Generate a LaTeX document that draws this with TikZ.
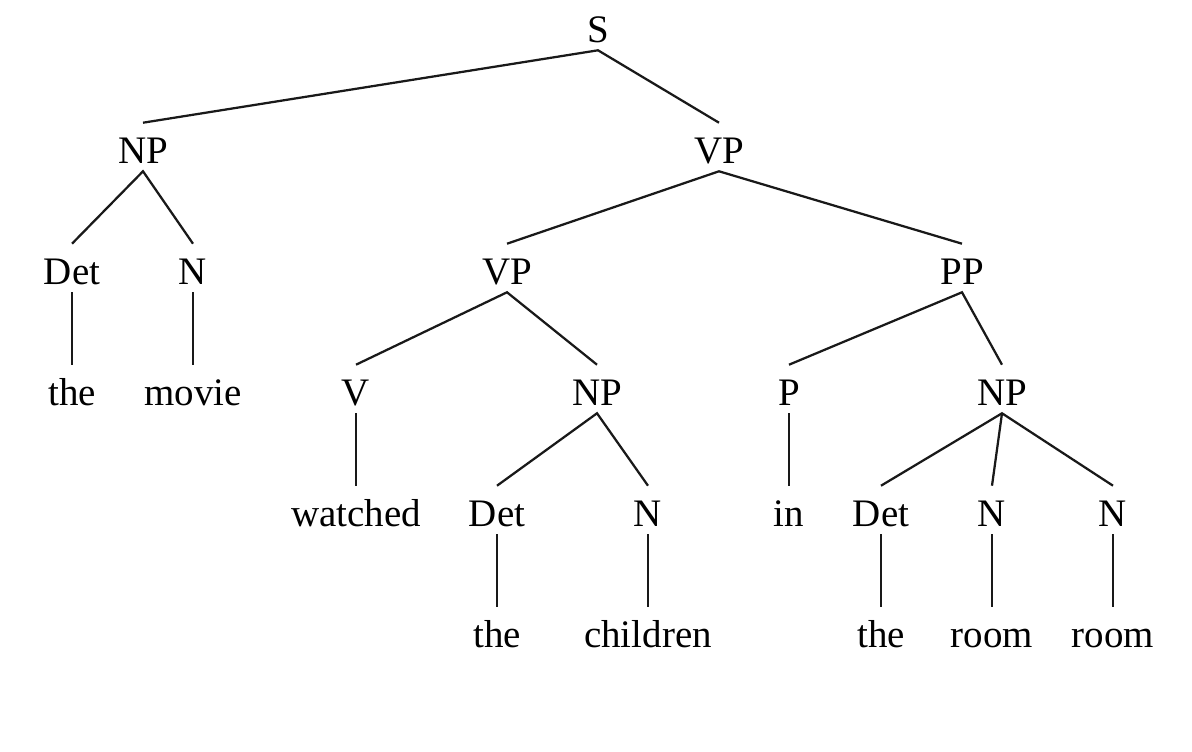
\documentclass[tikz,border=0pt]{standalone}
\usepackage{fontspec}
\setmainfont{Liberation Serif}
\usepackage{tikz}

\begin{document}
\begin{tikzpicture}[x=0.025cm, y=-0.025cm,
    every node/.style={font=\fontsize{27.7pt}{33pt}\selectfont, anchor=base,
        text height=0.8cm, text depth=0pt, inner xsep=0pt, inner ysep=0.2cm},
    branch/.style={line width=1.6pt, black!90}]
    \useasboundingbox (0,0) rectangle (1192,751);

    % Root and first level
    \node (s) at (598,42) {S};
    \node (np) at (143,163) {NP};
    \node (vp) at (719,163) {VP};

    % Subject NP
    \node (det) at (72,284) {Det};
    \node (n) at (193,284) {N};
    \node (the) at (72,405) {the};
    \node (movie) at (193,405) {movie};

    % Upper VP: VP + PP
    \node (vpb) at (507,284) {VP};
    \node (pp) at (962,284) {PP};

    % Lower VP
    \node (v) at (356,405) {V};
    \node (npb) at (597,405) {NP};
    \node (watched) at (356,526) {watched};
    \node (detb) at (497,526) {Det};
    \node (nb) at (648,526) {N};
    \node (theb) at (497,647) {the};
    \node (children) at (648,647) {children};

    % PP
    \node (p) at (789,405) {P};
    \node (npc) at (1002,405) {NP};
    \node (in) at (789,526) {in};
    \node (detc) at (881,526) {Det};
    \node (nc) at (992,526) {N};
    \node (nd) at (1113,526) {N};
    \node (thec) at (881,647) {the};
    \node (room) at (992,647) {room};
    \node (roomb) at (1113,647) {room};

    % Branches
    \draw[branch] (np.north) -- (s.south) -- (vp.north);
    \draw[branch] (det.north) -- (np.south) -- (n.north);
    \draw[branch] (det.south) -- (the.north);
    \draw[branch] (n.south) -- (movie.north);
    \draw[branch] (vpb.north) -- (vp.south) -- (pp.north);
    \draw[branch] (v.north) -- (vpb.south) -- (npb.north);
    \draw[branch] (v.south) -- (watched.north);
    \draw[branch] (detb.north) -- (npb.south) -- (nb.north);
    \draw[branch] (detb.south) -- (theb.north);
    \draw[branch] (nb.south) -- (children.north);
    \draw[branch] (p.north) -- (pp.south) -- (npc.north);
    \draw[branch] (p.south) -- (in.north);
    \draw[branch] (detc.north) -- (npc.south) -- (nd.north);
    \draw[branch] (npc.south) -- (nc.north);
    \draw[branch] (detc.south) -- (thec.north);
    \draw[branch] (nc.south) -- (room.north);
    \draw[branch] (nd.south) -- (roomb.north);
\end{tikzpicture}
\end{document}
